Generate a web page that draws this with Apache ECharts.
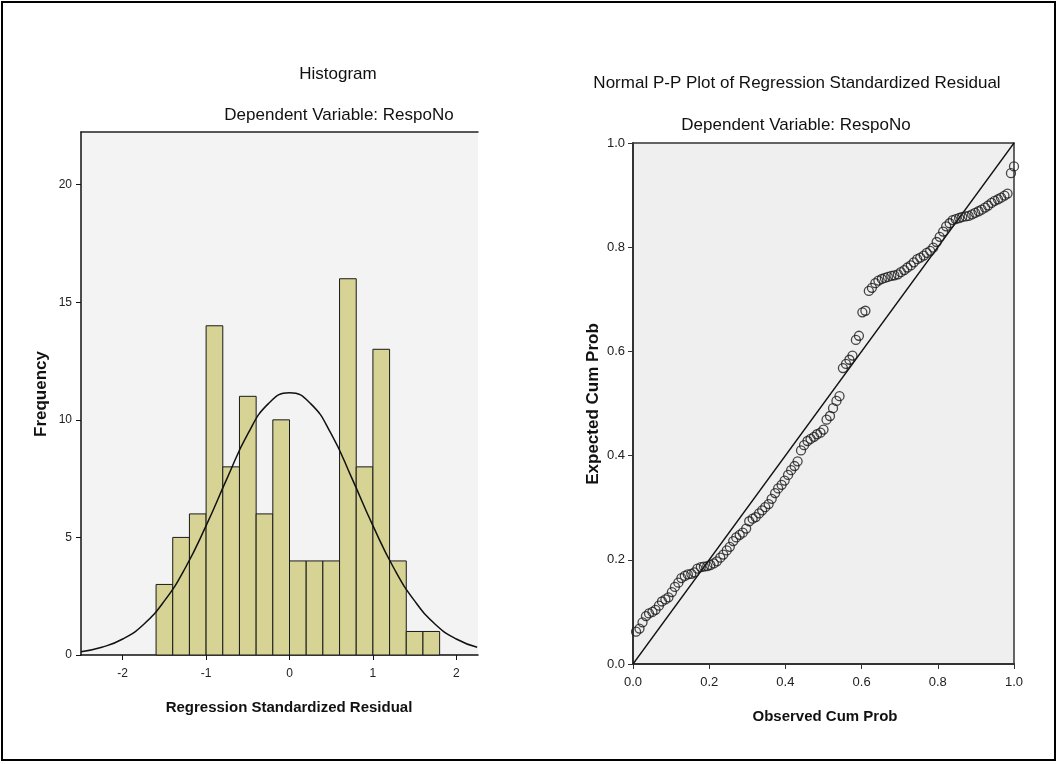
<!DOCTYPE html>
<html>
<head>
<meta charset="utf-8">
<title>Histogram / Normal P-P Plot</title>
<script src="https://cdn.jsdelivr.net/npm/echarts@6/dist/echarts.min.js"></script>
<style>
  html, body { margin: 0; padding: 0; background: #fff; }
  #main { width: 1059px; height: 764px; }
</style>
</head>
<body>
<div id="main"></div>
<script>
// histogram: bin edges and frequencies
var binEdges = [-1.6, -1.4, -1.2, -1.0, -0.8, -0.6, -0.4, -0.2, 0.0, 0.2, 0.4, 0.6, 0.8, 1.0, 1.2, 1.4, 1.6, 1.8];
var binCounts = [3, 5, 6, 14, 8, 11, 6, 10, 4, 4, 4, 16, 8, 13, 4, 1, 1];

// normal curve
var curveX = [-2.5, -2.25, -2.0, -1.75, -1.5, -1.25, -1.0, -0.75, -0.5, -0.25, 0.0, 0.25, 0.5, 0.75, 1.0, 1.25, 1.5, 1.75, 2.0, 2.25];
var curveY = [0.14, 0.33, 0.68, 1.3, 2.3, 3.7, 5.5, 7.5, 9.4, 10.7, 11.15, 10.7, 9.4, 7.5, 5.5, 3.7, 2.3, 1.3, 0.68, 0.33];

var histXTicks = [-2, -1, 0, 1, 2];
var histYTicks = [0, 5, 10, 15, 20];

// P-P plot points
var ppObserved = [
  0.008, 0.017, 0.025, 0.034, 0.042, 0.051, 0.059, 0.068, 0.076, 0.085,
  0.093, 0.102, 0.110, 0.119, 0.127, 0.136, 0.144, 0.153, 0.161, 0.169,
  0.178, 0.186, 0.195, 0.203, 0.212, 0.220, 0.229, 0.237, 0.246, 0.254,
  0.263, 0.271, 0.280, 0.288, 0.297, 0.305, 0.314, 0.322, 0.331, 0.339,
  0.347, 0.356, 0.364, 0.373, 0.381, 0.390, 0.398, 0.407, 0.415, 0.424,
  0.432, 0.441, 0.449, 0.458, 0.466, 0.475, 0.483, 0.492, 0.500, 0.508,
  0.517, 0.525, 0.534, 0.542, 0.551, 0.559, 0.568, 0.576, 0.585, 0.593,
  0.602, 0.610, 0.619, 0.627, 0.636, 0.644, 0.653, 0.661, 0.669, 0.678,
  0.686, 0.695, 0.703, 0.712, 0.720, 0.729, 0.737, 0.746, 0.754, 0.763,
  0.771, 0.780, 0.788, 0.797, 0.805, 0.814, 0.822, 0.831, 0.839, 0.847,
  0.856, 0.864, 0.873, 0.881, 0.890, 0.898, 0.907, 0.915, 0.924, 0.932,
  0.941, 0.949, 0.958, 0.966, 0.975, 0.983, 0.992, 1.000
];
var ppExpected = [
  0.062, 0.068, 0.080, 0.092, 0.097, 0.100, 0.104, 0.112, 0.120, 0.124,
  0.128, 0.138, 0.148, 0.156, 0.165, 0.169, 0.172, 0.173, 0.176, 0.183,
  0.186, 0.187, 0.188, 0.190, 0.193, 0.197, 0.204, 0.210, 0.218, 0.225,
  0.236, 0.243, 0.248, 0.252, 0.260, 0.274, 0.279, 0.282, 0.289, 0.295,
  0.301, 0.307, 0.317, 0.328, 0.337, 0.344, 0.352, 0.363, 0.372, 0.380,
  0.389, 0.410, 0.420, 0.428, 0.432, 0.436, 0.441, 0.444, 0.450, 0.469,
  0.476, 0.491, 0.505, 0.514, 0.568, 0.576, 0.584, 0.592, 0.622, 0.630,
  0.675, 0.678, 0.716, 0.722, 0.731, 0.736, 0.739, 0.741, 0.743, 0.745,
  0.746, 0.748, 0.752, 0.756, 0.761, 0.765, 0.771, 0.777, 0.780, 0.784,
  0.789, 0.793, 0.799, 0.810, 0.820, 0.830, 0.840, 0.846, 0.852, 0.854,
  0.856, 0.858, 0.859, 0.860, 0.863, 0.866, 0.869, 0.872, 0.876, 0.880,
  0.885, 0.889, 0.892, 0.895, 0.899, 0.903, 0.942, 0.955
];
var ppDiagonal = [[0, 0], [1, 1]];

var font = '"Liberation Sans", Arial, sans-serif';

var histData = [];
for (var i = 0; i < binCounts.length; i++) {
  histData.push([binEdges[i], binEdges[i + 1], binCounts[i]]);
}
var curveData = [];
for (var j = 0; j < curveX.length; j++) {
  curveData.push([curveX[j], curveY[j]]);
}
var ppData = [];
for (var k = 0; k < ppObserved.length; k++) {
  ppData.push([ppObserved[k], ppExpected[k]]);
}

function label(txt, x, y, size, bold, rot) {
  return {
    type: 'text', x: x, y: y, rotation: rot || 0, silent: true,
    style: {
      text: txt, fill: '#111', align: 'center', verticalAlign: 'middle',
      font: (bold ? 'bold ' : '') + size + 'px ' + font
    }
  };
}

var tickLabel = { color: '#222', fontSize: 12, fontFamily: font };

var chart = echarts.init(document.getElementById('main'));
chart.setOption({
  animation: false,
  grid: [
    { left: 81, top: 132, width: 397, height: 523, show: true, backgroundColor: '#f3f3f3', borderWidth: 0 },
    { left: 633, top: 143, width: 381, height: 521, show: true, backgroundColor: '#efefef', borderWidth: 0 }
  ],
  xAxis: [
    {
      gridIndex: 0, type: 'value', min: -2.5, max: 2.26, position: 'bottom',
      axisLine: { onZero: false, lineStyle: { color: '#111', width: 1.5 } },
      axisTick: { customValues: histXTicks, length: 5, lineStyle: { color: '#111' } },
      axisLabel: Object.assign({ customValues: histXTicks, margin: 13 }, tickLabel),
      splitLine: { show: false }
    },
    {
      gridIndex: 0, type: 'value', min: -2.5, max: 2.26, position: 'top',
      axisLine: { onZero: false, lineStyle: { color: '#222', width: 1.5 } },
      axisTick: { show: false }, axisLabel: { show: false }, splitLine: { show: false }
    },
    {
      gridIndex: 1, type: 'value', min: 0, max: 1, interval: 0.2, position: 'bottom',
      axisLine: { onZero: false, lineStyle: { color: '#333', width: 2 } },
      axisTick: { length: 5, lineStyle: { color: '#333' } },
      axisLabel: { margin: 12, fontSize: 13, color: '#222', fontFamily: font, formatter: function (v) { return v.toFixed(1); } },
      splitLine: { show: false }
    },
    {
      gridIndex: 1, type: 'value', min: 0, max: 1, position: 'top',
      axisLine: { onZero: false, lineStyle: { color: '#333', width: 1.5 } },
      axisTick: { show: false }, axisLabel: { show: false }, splitLine: { show: false }
    }
  ],
  yAxis: [
    {
      gridIndex: 0, type: 'value', min: 0, max: 22.24, position: 'left',
      axisLine: { show: true, onZero: false, lineStyle: { color: '#111', width: 1.5 } },
      axisTick: { show: true, customValues: histYTicks, length: 5, lineStyle: { color: '#111' } },
      axisLabel: Object.assign({ customValues: histYTicks, margin: 9 }, tickLabel),
      splitLine: { show: false }
    },
    {
      gridIndex: 1, type: 'value', min: 0, max: 1, interval: 0.2, position: 'left',
      axisLine: { show: true, onZero: false, lineStyle: { color: '#333', width: 2 } },
      axisTick: { show: true, length: 5, lineStyle: { color: '#333' } },
      axisLabel: { margin: 8, fontSize: 13, color: '#222', fontFamily: font, formatter: function (v) { return v.toFixed(1); } },
      splitLine: { show: false }
    },
    {
      gridIndex: 1, type: 'value', min: 0, max: 1, position: 'right',
      axisLine: { show: true, onZero: false, lineStyle: { color: '#333', width: 1.5 } },
      axisTick: { show: false }, axisLabel: { show: false }, splitLine: { show: false }
    }
  ],
  series: [
    {
      type: 'custom', xAxisIndex: 0, yAxisIndex: 0, data: histData,
      renderItem: function (params, api) {
        var p0 = api.coord([api.value(0), api.value(2)]);
        var p1 = api.coord([api.value(1), 0]);
        return {
          type: 'rect',
          shape: { x: p0[0], y: p0[1], width: p1[0] - p0[0], height: p1[1] - p0[1] },
          style: { fill: '#d6d395', stroke: '#1a1a1a', lineWidth: 1 }
        };
      }
    },
    {
      type: 'line', xAxisIndex: 0, yAxisIndex: 0, data: curveData,
      smooth: true, showSymbol: false, z: 5,
      lineStyle: { color: '#111', width: 1.5 }
    },
    {
      type: 'line', xAxisIndex: 2, yAxisIndex: 1, data: ppDiagonal,
      showSymbol: false, lineStyle: { color: '#111', width: 1.3 }
    },
    {
      type: 'scatter', xAxisIndex: 2, yAxisIndex: 1, data: ppData,
      symbol: 'circle', symbolSize: 9, z: 4,
      itemStyle: { color: 'rgba(0,0,0,0)', borderColor: '#1a1a1a', borderWidth: 1.3 }
    }
  ],
  graphic: [
    { type: 'rect', silent: true, shape: { x: 2, y: 2, width: 1053, height: 758 }, style: { fill: null, stroke: '#000', lineWidth: 2 } },
    label('Histogram', 338, 74, 17, false),
    label('Dependent Variable: RespoNo', 339, 115, 17, false),
    label('Normal P-P Plot of Regression Standardized Residual', 797, 83, 17, false),
    label('Dependent Variable: RespoNo', 796, 125, 17, false),
    label('Frequency', 41, 394, 17, true, Math.PI / 2),
    label('Regression Standardized Residual', 289, 708, 15, true),
    label('Expected Cum Prob', 593, 404, 17, true, Math.PI / 2),
    label('Observed Cum Prob', 825, 717, 15, true)
  ]
});
</script>
</body>
</html>
